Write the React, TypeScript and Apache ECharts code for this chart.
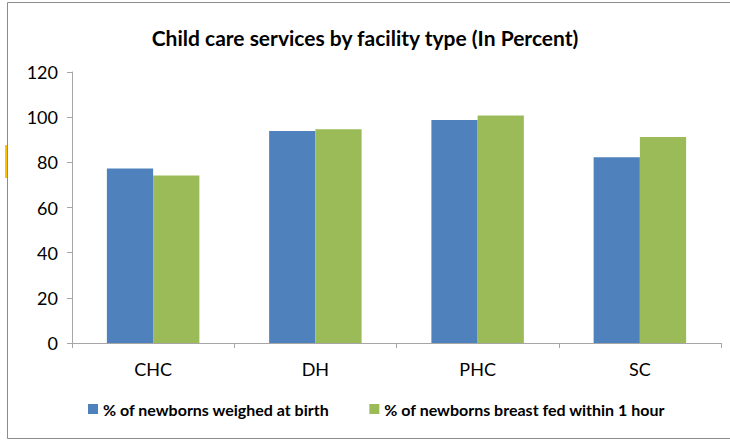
import React, { useEffect, useRef } from "react";
import * as echarts from "echarts";

const categories = ["CHC", "DH", "PHC", "SC"];
const weighedAtBirth = [77.3, 93.9, 98.7, 82.2];
const breastFedWithin1Hour = [74.2, 94.6, 100.7, 91.2];
const seriesNames = ["% of newborns weighed at birth", "% of newborns breast fed within 1 hour"];
const titleText = "Child care services by facility type (In Percent)";

const FONT = "Lato, 'Noto Sans', sans-serif";

export default function App() {
  const ref = useRef<HTMLDivElement>(null);
  useEffect(() => {
    document.body.style.margin = "0";
    const chart = echarts.init(ref.current!, null, { renderer: "svg" });
    chart.setOption({
      animation: false,
      backgroundColor: "#ffffff",
      title: {
        text: titleText,
        left: "center",
        top: 22,
        textStyle: { fontFamily: FONT, fontSize: 21, fontWeight: "bold", color: "#000" },
      },
      legend: {
        bottom: 19,
        left: 83,
        icon: "rect",
        itemWidth: 10,
        itemHeight: 10,
        itemGap: 40,
        textStyle: { fontFamily: FONT, fontSize: 16, fontWeight: "bold", color: "#000" },
        data: seriesNames,
      },
      grid: { left: 72, right: 9, top: 72, bottom: 98, containLabel: false },
      xAxis: {
        type: "category",
        data: categories,
        axisLine: { lineStyle: { color: "#a6a6a6", width: 1 } },
        axisTick: { show: true, length: 5, lineStyle: { color: "#a6a6a6" } },
        axisLabel: { fontFamily: FONT, fontSize: 18, color: "#000", margin: 17 },
      },
      yAxis: {
        type: "value",
        min: 0,
        max: 120,
        interval: 20,
        splitLine: { show: false },
        axisLine: { show: true, lineStyle: { color: "#a6a6a6", width: 1 } },
        axisTick: { show: true, length: 5, lineStyle: { color: "#a6a6a6" } },
        axisLabel: { fontFamily: FONT, fontSize: 18, color: "#000", margin: 14 },
      },
      series: [
        {
          name: seriesNames[0],
          type: "bar",
          data: weighedAtBirth,
          barGap: "0%",
          barCategoryGap: "43%",
          itemStyle: { color: "#4F81BD" },
        },
        {
          name: seriesNames[1],
          type: "bar",
          data: breastFedWithin1Hour,
          barGap: "0%",
          barCategoryGap: "43%",
          itemStyle: { color: "#9BBB59" },
        },
      ],
      graphic: [
        {
          type: "rect",
          shape: { x: 7.5, y: 2.5, width: 730, height: 436 },
          style: { fill: "none", stroke: "#8c8c8c", lineWidth: 1 },
          silent: true,
        },
        {
          type: "rect",
          shape: { x: 5, y: 145, width: 2, height: 33 },
          style: { fill: "#FFC000" },
          silent: true,
        },
      ],
    });
    return () => chart.dispose();
  }, []);
  return <div ref={ref} style={{ width: 730, height: 441 }} />;
}
